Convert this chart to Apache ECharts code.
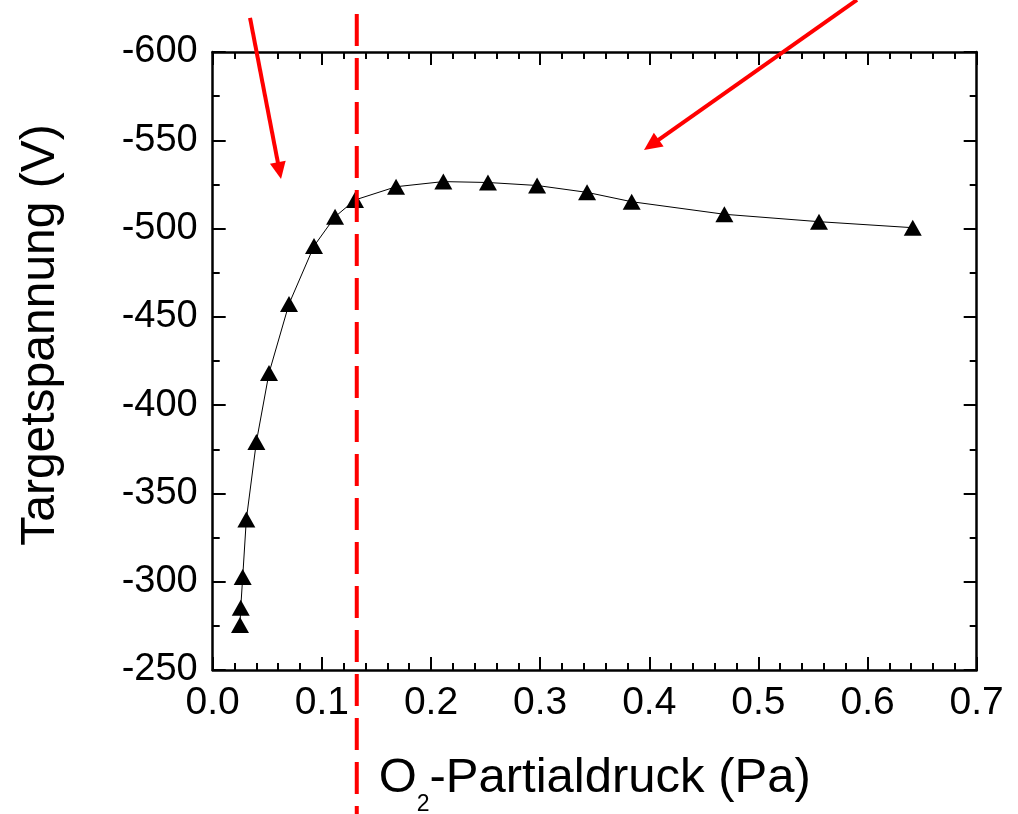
<!DOCTYPE html>
<html><head><meta charset="utf-8">
<script src="https://cdn.jsdelivr.net/npm/echarts@6/dist/echarts.min.js"></script>
<style>html,body{margin:0;padding:0;background:#fff}#c{width:1018px;height:814px}</style>
</head><body><div id="c"></div>
<script>
// O2 partial pressure (Pa)
const pressure = [0.0250, 0.0257, 0.0275, 0.0308, 0.0400, 0.0516, 0.0699, 0.0928, 0.1121, 0.1304, 0.1680, 0.2113, 0.2522, 0.2972, 0.3430, 0.3839, 0.4688, 0.5555, 0.6414];
// target voltage (V)
const voltage = [-275.5, -285.3, -302.7, -335.2, -379.1, -418.2, -457.3, -490.1, -506.7, -516.2, -523.7, -526.6, -526.1, -524.4, -520.5, -515.2, -508.1, -503.9, -500.5];
const xTickLabels = ['0.0', '0.1', '0.2', '0.3', '0.4', '0.5', '0.6', '0.7'];
const yTickLabels = ['-600', '-550', '-500', '-450', '-400', '-350', '-300', '-250'];
// annotations (data coordinates)
const dashedLineX = 0.132;
const dashedLineY = [-621.5, -168.4];
const arrow1 = [[0.0342, -619.3], [0.0626, -528.1]];
const arrow2 = [[0.5903, -629.5], [0.3952, -544.5]];

const font = 'Liberation Sans, Arial, sans-serif';
function xAx(pos, showLabel, name) {
  return {
    type: 'value', position: pos, min: 0, max: 0.7, interval: 0.1,
    axisLine: { show: true, onZero: false, lineStyle: { color: '#000', width: 2.5 } },
    axisTick: { show: true, inside: true, length: 13, lineStyle: { color: '#000', width: 2 } },
    minorTick: { show: true, splitNumber: 5, length: 7, lineStyle: { color: '#000', width: 2 } },
    splitLine: { show: false },
    axisLabel: { show: showLabel, fontSize: 39, color: '#000', fontFamily: font, margin: 14,
      formatter: (v) => xTickLabels[Math.round(v * 10)] },
    name: name || '', nameLocation: 'middle', nameGap: 70,
    nameTextStyle: { rich: {
      a: { fontSize: 49, fontFamily: font, color: '#000', lineHeight: 76 },
      s: { fontSize: 23, fontFamily: font, color: '#000', lineHeight: 22, verticalAlign: 'bottom' }
    } }
  };
}
function yAx(pos, showLabel, name) {
  return {
    type: 'value', position: pos, inverse: true, min: -600, max: -250, interval: 50,
    axisLine: { show: true, onZero: false, lineStyle: { color: '#000', width: 2.5 } },
    axisTick: { show: true, inside: true, length: 13, lineStyle: { color: '#000', width: 2 } },
    minorTick: { show: true, splitNumber: 2, length: 7, lineStyle: { color: '#000', width: 2 } },
    splitLine: { show: false },
    axisLabel: { show: showLabel, fontSize: 38, color: '#000', fontFamily: font, margin: 15,
      formatter: (v) => yTickLabels[Math.round((v + 600) / 50)] },
    name: name || '', nameLocation: 'middle', nameGap: 148, nameRotate: 90,
    nameTextStyle: { fontSize: 48, fontFamily: font, color: '#000', padding: [0, 0, 0, 52] }
  };
}

const chart = echarts.init(document.getElementById('c'), null, { renderer: 'canvas' });
chart.setOption({
  animation: false,
  backgroundColor: '#fff',
  grid: { left: 212.7, right: 41.3, top: 52, bottom: 144, containLabel: false, outerBoundsMode: 'none' },
  xAxis: [xAx('bottom', true, '{a|O}{s|2}{a|-Partialdruck (Pa)}'), xAx('top', false)],
  yAxis: [yAx('left', true, 'Targetspannung (V)'), yAx('right', false)],
  series: [{
    type: 'line', xAxisIndex: 0, yAxisIndex: 0,
    data: pressure.map((p, i) => [p, voltage[i]]),
    symbol: 'triangle', symbolSize: [18, 16],
    itemStyle: { color: '#000' },
    lineStyle: { color: '#000', width: 1 },
    clip: false
  }]
});

function px(pt) { return chart.convertToPixel({ xAxisIndex: 0, yAxisIndex: 0 }, pt); }
function arrowGraphic(a, headLen, headW) {
  const s = px(a[0]), t = px(a[1]);
  const dx = t[0] - s[0], dy = t[1] - s[1];
  const L = Math.hypot(dx, dy), ux = dx / L, uy = dy / L;
  const bx = t[0] - ux * headLen, by = t[1] - uy * headLen;
  const nx = -uy * headW / 2, ny = ux * headW / 2;
  return [
    { type: 'line', z: 100, shape: { x1: s[0], y1: s[1], x2: bx + ux * 2, y2: by + uy * 2 },
      style: { stroke: '#ff0000', lineWidth: 4 } },
    { type: 'polygon', z: 100, shape: { points: [[t[0], t[1]], [bx + nx, by + ny], [bx - nx, by - ny]] },
      style: { fill: '#ff0000' } }
  ];
}
const d0 = px([dashedLineX, dashedLineY[0]]), d1 = px([dashedLineX, dashedLineY[1]]);
chart.setOption({
  graphic: [
    { type: 'line', z: 100, shape: { x1: d0[0], y1: d0[1], x2: d1[0], y2: d1[1] },
      style: { stroke: '#ff0000', lineWidth: 4, lineDash: [32, 12] } },
    ...arrowGraphic(arrow1, 17, 16),
    ...arrowGraphic(arrow2, 18, 17)
  ]
});
</script>
</body></html>
